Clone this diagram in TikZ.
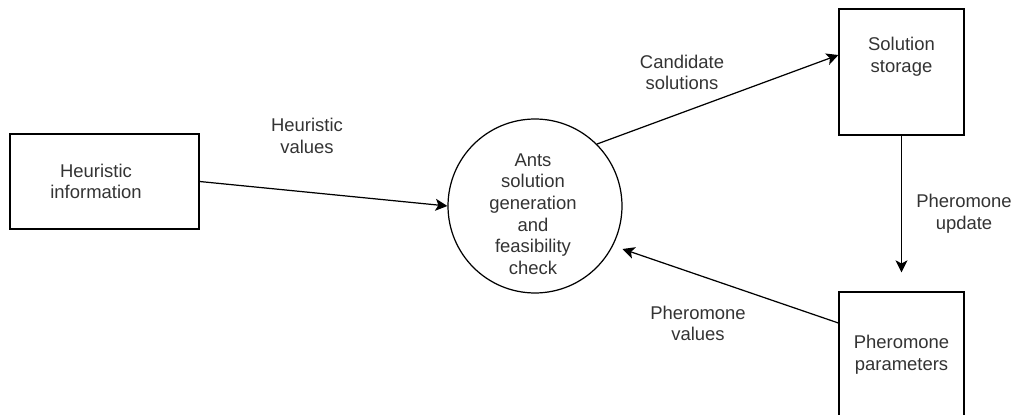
\documentclass[tikz,border=0pt]{standalone}
\usepackage{fontspec}
\setmainfont{Liberation Sans}
\usetikzlibrary{arrows.meta, positioning}

\begin{document}
\begin{tikzpicture}[x=0.02cm, y=-0.02cm,
        every node/.style={font=\fontsize{10.5}{12.3}\selectfont, text=black!80},
        box/.style={rectangle, draw, line width=0.7pt, minimum width=2.5cm, minimum height=2.52cm, inner sep=0pt},
        proc/.style={circle, draw, line width=0.7pt, minimum size=3.48cm, inner sep=0pt},
        txt/.style={align=center, inner sep=0pt},
        arr/.style={-{Stealth[length=0.24cm, width=0.24cm, inset=0.06cm]}, line width=0.7pt}]
    \useasboundingbox (0,0) rectangle (1015,415);

    % shapes
    \node[box, minimum width=3.78cm, minimum height=1.9cm] (heur) at (104.5,181.5) {};
    \node[proc] (ants) at (535,206) {};
    \node[box] (store) at (901.5,72) {};
    \node[box] (pher) at (901.5,355) {};

    % texts inside the shapes
    \node[txt] (heurtxt) at ([xshift=-0.17cm]heur.center) {Heuristic\\information};
    \node[txt] (antstxt) at (533,214) {Ants\\solution\\generation\\and\\feasibility\\check};
    \node[txt] (storetxt) at ([yshift=0.3cm]store.center) {Solution\\storage};
    \node[txt] (phertxt) at (pher.center) {Pheromone\\parameters};

    % flow labels
    \node[txt] (hval) at (307,136) {Heuristic\\values};
    \node[txt] (cand) at (682,72.5) {Candidate\\solutions};
    \node[txt] (pupd) at (964,214) {Pheromone\\update};
    \node[txt] (pval) at (698,323.5) {Pheromone\\values};

    \draw[arr] (heur.east) -- (ants.west);
    \draw[arr] (ants.45) -- ([yshift=0.34cm]store.west);
    \draw[arr, shorten >=0.38cm] (store.south) -- (pher.north);
    \draw[arr, shorten >=0.2cm] ([yshift=0.64cm]pher.west) -- (ants.-27);
\end{tikzpicture}
\end{document}
